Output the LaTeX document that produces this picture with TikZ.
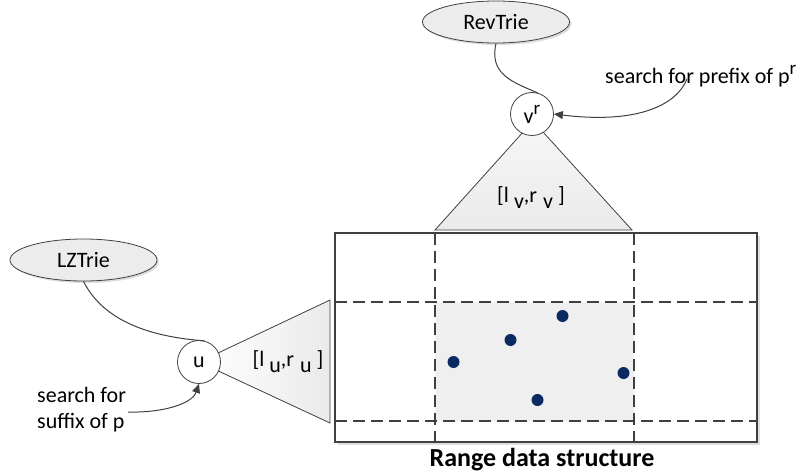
\documentclass[tikz,border=0pt]{standalone}
\usepackage{fontspec}
\setmainfont{Carlito}
\usetikzlibrary{arrows.meta,shapes.geometric,shadows}

\definecolor{linegray}{HTML}{404040}
\definecolor{dotblue}{HTML}{0B2A62}
\definecolor{cellgray}{HTML}{EFEFEF}
\definecolor{trifill}{HTML}{EAEAEA}

% lowered index and raised exponent, set at nearly full size
\newcommand\lowidx[1]{\raisebox{-6pt}{#1}}
\newcommand\highidx[1]{\raisebox{9pt}{\fontsize{19}{19}\selectfont #1}}

\begin{document}
\begin{tikzpicture}[x=1pt,y=-1pt,
  font=\fontsize{22}{26}\selectfont,
  trie/.style={ellipse, draw=linegray, line width=0.8pt, fill=gray!15,
    minimum width=147pt, minimum height=42pt, inner sep=0pt,
    drop shadow={shadow xshift=2pt, shadow yshift=-2pt, fill=gray!45, opacity=0.6}},
  treenode/.style={circle, draw=linegray, line width=0.8pt, fill=white,
    minimum size=43pt, inner sep=0pt},
  link/.style={draw=linegray, line width=1pt},
  pointer/.style={link, -{Triangle[length=9pt, width=8pt]}},
  intervalbox/.style={draw=linegray, line width=0.8pt},
  split/.style={draw=linegray, line width=1.6pt, dash pattern=on 12pt off 6pt},
  pointdot/.style={circle, fill=dotblue, minimum size=12pt, inner sep=0pt},
  note/.style={inner sep=0pt, align=left}]

\useasboundingbox (0,0) rectangle (806,476);

% ---- range structure: grid with query window ----
\fill[white, drop shadow={shadow xshift=3pt, shadow yshift=-3pt, fill=gray!35, opacity=0.7}]
  (335,233) rectangle (757,442);
\fill[cellgray] (435,302) rectangle (634,421);
\draw[split] (435,233) -- (435,442);
\draw[split] (634,233) -- (634,442);
\draw[split] (335,302) -- (757,302);
\draw[split] (335,421) -- (757,421);
\draw[line width=1.8pt, draw=linegray] (335,233) rectangle (757,442);

\node[pointdot] (p1) at (453.5,362) {};
\node[pointdot] (p2) at (510.5,340) {};
\node[pointdot] (p3) at (562.5,316) {};
\node[pointdot] (p4) at (537.5,400) {};
\node[pointdot] (p5) at (623.5,373) {};

\node[font=\fontsize{26}{29}\selectfont\bfseries] (title) at (542,460) {Range data structure};

% ---- reverse trie side (columns) ----
\node[trie] (rev) at (496,22) {RevTrie};
\shade[intervalbox, top color=white!60!trifill, bottom color=trifill]
  (533,121) -- (435,230) -- (632,230) -- cycle;
\node[treenode] (vr) at (532,114) {v\highidx{r}};
\node (vrange) at (531,198) {[l\kern5pt\lowidx{v},r\kern6pt\lowidx{v}\kern5pt]};

\node[note, anchor=west] (pref) at (605,76) {search for prefix of p\highidx{r}};
\coordinate (preftail) at (687,79);

\draw[link] (rev.south) .. controls (489,74) and (512,82) .. (vr.75);
\draw[pointer] (preftail) .. controls (676,106) and (636,124) .. (vr.east);

% ---- LZ trie side (rows) ----
\node[trie] (lz) at (83.5,260) {LZTrie};
\shade[intervalbox, left color=white, right color=trifill]
  (199,362) -- (330,300) -- (330,423) -- cycle;
\node[treenode] (u) at (199,362) {u};
\node (urange) at (288,362) {[l\kern5pt\lowidx{u},r\kern6pt\lowidx{u}\kern5pt]};

\node[note, anchor=west] (suf) at (37,410) {search for\\suffix of p};
\coordinate (suftail) at (128,412);

\draw[link] (lz.south) .. controls (104,322) and (152,337) .. (u.75);
\draw[pointer] (suftail) .. controls (162,413) and (192,404) .. (u.south);

\end{tikzpicture}
\end{document}
